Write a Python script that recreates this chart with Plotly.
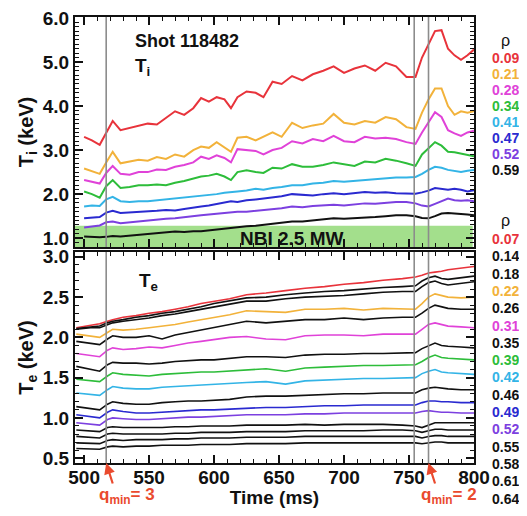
import plotly.graph_objects as go

# ---------------- data ----------------
t_ti = [500, 506, 512, 517, 522, 528, 535, 542, 549, 556, 563, 570, 577, 584, 590, 596, 602, 608, 613, 618,
        625, 632, 638, 645, 652, 660, 668, 676, 684, 692, 700, 708, 716, 724, 732, 740, 748, 755, 760, 765,
        770, 775, 780, 785, 790, 795, 800]

ti_rho = ["0.09", "0.21", "0.28", "0.34", "0.41", "0.47", "0.52", "0.59"]
ti_colors = ["#e8333b", "#f2b23a", "#e042d8", "#2dbd3a", "#33b4e6", "#2a2ad0", "#7c40e0", "#111111"]

ti_009 = [3.30, 3.22, 3.12, 3.40, 3.66, 3.45, 3.50, 3.55, 3.60, 3.58, 3.72, 3.88, 3.80, 3.95, 4.18, 4.10, 4.20, 4.15, 3.95, 4.20,
          4.33, 4.30, 4.20, 4.55, 4.50, 4.68, 4.58, 4.72, 4.80, 4.90, 4.75, 4.85, 4.92, 4.80, 4.98, 4.90, 4.66, 4.66, 5.10, 5.40,
          5.70, 5.72, 5.30, 5.15, 5.05, 5.15, 5.28]
ti_021 = [2.58, 2.52, 2.46, 2.72, 2.96, 2.70, 2.74, 2.78, 2.76, 2.84, 2.80, 2.90, 2.85, 3.00, 3.08, 3.05, 3.18, 3.05, 2.96, 3.28,
          3.30, 3.22, 3.30, 3.40, 3.30, 3.62, 3.50, 3.56, 3.60, 3.82, 3.62, 3.58, 3.66, 3.62, 3.75, 3.70, 3.52, 3.48, 3.85, 4.15,
          4.40, 4.40, 4.00, 3.80, 3.88, 3.85, 3.88]
ti_028 = [2.32, 2.28, 2.24, 2.48, 2.64, 2.46, 2.44, 2.50, 2.50, 2.56, 2.55, 2.62, 2.66, 2.72, 2.85, 2.80, 2.88, 2.82, 2.72, 3.02,
          3.00, 2.98, 2.90, 3.00, 3.05, 3.20, 3.15, 3.25, 3.20, 3.32, 3.20, 3.18, 3.30, 3.26, 3.28, 3.25, 3.18, 3.14, 3.40, 3.62,
          3.86, 3.75, 3.45, 3.38, 3.32, 3.40, 3.44]
ti_034 = [2.06, 2.00, 1.92, 2.18, 2.32, 2.14, 2.16, 2.20, 2.20, 2.22, 2.20, 2.26, 2.30, 2.36, 2.40, 2.42, 2.46, 2.40, 2.32, 2.50,
          2.54, 2.50, 2.48, 2.60, 2.58, 2.68, 2.62, 2.62, 2.66, 2.72, 2.68, 2.64, 2.74, 2.72, 2.80, 2.76, 2.70, 2.64, 2.90, 3.05,
          3.18, 3.10, 2.96, 2.95, 2.92, 2.90, 2.86]
ti_041 = [1.72, 1.74, 1.73, 1.88, 1.94, 1.84, 1.82, 1.84, 1.84, 1.86, 1.88, 1.90, 1.92, 1.95, 1.97, 1.98, 2.00, 2.03, 2.05, 2.06,
          2.08, 2.12, 2.10, 2.14, 2.16, 2.20, 2.20, 2.24, 2.26, 2.30, 2.28, 2.30, 2.32, 2.34, 2.36, 2.38, 2.38, 2.39, 2.46, 2.55,
          2.62, 2.60, 2.55, 2.52, 2.50, 2.53, 2.55]
ti_047 = [1.45, 1.47, 1.48, 1.58, 1.62, 1.57, 1.58, 1.60, 1.60, 1.62, 1.64, 1.63, 1.66, 1.70, 1.72, 1.74, 1.78, 1.82, 1.84, 1.82,
          1.86, 1.88, 1.90, 1.94, 1.95, 2.00, 1.98, 1.97, 2.00, 2.02, 2.00, 2.03, 2.05, 2.03, 2.04, 2.02, 2.01, 2.01, 2.04, 2.08,
          2.14, 2.12, 2.10, 2.12, 2.10, 2.06, 2.09]
ti_052 = [1.24, 1.27, 1.29, 1.36, 1.38, 1.34, 1.36, 1.38, 1.41, 1.42, 1.44, 1.45, 1.48, 1.50, 1.52, 1.54, 1.56, 1.58, 1.60, 1.60,
          1.60, 1.62, 1.64, 1.66, 1.68, 1.72, 1.70, 1.73, 1.74, 1.76, 1.74, 1.77, 1.79, 1.78, 1.80, 1.82, 1.82, 1.79, 1.74, 1.72,
          1.78, 1.84, 1.90, 1.86, 1.85, 1.86, 1.84]
ti_059 = [1.04, 1.03, 1.02, 1.03, 1.05, 1.04, 1.06, 1.08, 1.10, 1.12, 1.14, 1.15, 1.14, 1.16, 1.16, 1.18, 1.20, 1.22, 1.22, 1.24,
          1.27, 1.28, 1.30, 1.32, 1.34, 1.38, 1.38, 1.40, 1.42, 1.45, 1.44, 1.45, 1.46, 1.48, 1.50, 1.52, 1.52, 1.50, 1.46, 1.45,
          1.50, 1.56, 1.57, 1.56, 1.56, 1.54, 1.52]

t_te = [494, 505, 512, 518, 522, 530, 540, 550, 560, 570, 580, 590, 600, 612, 625, 640, 655, 670, 685, 700,
        715, 730, 745, 755, 760, 765, 770, 775, 780, 790, 800]

te_rho = ["0.07", "0.14", "0.18", "0.22", "0.26", "0.31", "0.35", "0.39", "0.42", "0.46", "0.49", "0.52",
          "0.55", "0.58", "0.61", "0.64"]
te_colors = ["#e8333b", "#111111", "#111111", "#f2b23a", "#111111", "#e042d8", "#111111", "#2dbd3a", "#33b4e6",
             "#111111", "#2a2ad0", "#7c40e0", "#111111", "#111111", "#111111", "#111111"]

te_007 = [2.12, 2.15, 2.17, 2.20, 2.22, 2.25, 2.27, 2.30, 2.32, 2.35, 2.38, 2.42, 2.45, 2.48, 2.53, 2.55, 2.58, 2.61, 2.63, 2.66,
          2.68, 2.71, 2.73, 2.75, 2.77, 2.80, 2.81, 2.82, 2.84, 2.86, 2.88]
te_014 = [2.11, 2.13, 2.14, 2.18, 2.20, 2.22, 2.25, 2.27, 2.30, 2.32, 2.35, 2.38, 2.42, 2.45, 2.49, 2.50, 2.53, 2.55, 2.57, 2.58,
          2.60, 2.62, 2.63, 2.64, 2.70, 2.74, 2.76, 2.73, 2.72, 2.74, 2.76]
te_018 = [2.10, 2.12, 2.12, 2.16, 2.18, 2.20, 2.22, 2.24, 2.27, 2.29, 2.32, 2.35, 2.38, 2.41, 2.45, 2.45, 2.48, 2.50, 2.51, 2.52,
          2.54, 2.56, 2.57, 2.57, 2.63, 2.68, 2.70, 2.67, 2.65, 2.67, 2.69]
te_022 = [2.04, 2.02, 2.00, 2.06, 2.10, 2.09, 2.10, 2.12, 2.14, 2.16, 2.19, 2.22, 2.25, 2.28, 2.33, 2.32, 2.31, 2.35, 2.35, 2.36,
          2.34, 2.36, 2.35, 2.35, 2.42, 2.50, 2.54, 2.52, 2.50, 2.49, 2.50]
te_026 = [1.95, 1.93, 1.91, 1.98, 2.02, 2.00, 2.00, 2.02, 1.98, 2.03, 2.06, 2.09, 2.12, 2.16, 2.20, 2.18, 2.20, 2.22, 2.22, 2.24,
          2.22, 2.24, 2.25, 2.25, 2.30, 2.36, 2.40, 2.38, 2.36, 2.35, 2.35]
te_031 = [1.80, 1.78, 1.76, 1.84, 1.87, 1.85, 1.86, 1.88, 1.87, 1.90, 1.93, 1.95, 1.97, 2.00, 2.01, 1.98, 1.97, 2.02, 2.03, 2.03,
          2.02, 2.04, 2.04, 2.04, 2.10, 2.16, 2.18, 2.16, 2.14, 2.13, 2.12]
te_035 = [1.64, 1.60, 1.58, 1.66, 1.69, 1.68, 1.68, 1.67, 1.68, 1.70, 1.71, 1.72, 1.72, 1.74, 1.76, 1.76, 1.75, 1.78, 1.79, 1.79,
          1.80, 1.80, 1.81, 1.81, 1.86, 1.90, 1.93, 1.90, 1.89, 1.88, 1.87]
te_039 = [1.48, 1.46, 1.45, 1.52, 1.56, 1.54, 1.53, 1.52, 1.54, 1.55, 1.56, 1.57, 1.57, 1.58, 1.60, 1.61, 1.58, 1.62, 1.63, 1.64,
          1.65, 1.65, 1.66, 1.66, 1.70, 1.75, 1.78, 1.75, 1.74, 1.73, 1.72]
te_042 = [1.31, 1.29, 1.28, 1.35, 1.39, 1.37, 1.36, 1.36, 1.38, 1.39, 1.40, 1.41, 1.42, 1.43, 1.44, 1.45, 1.42, 1.46, 1.47, 1.48,
          1.49, 1.49, 1.50, 1.50, 1.55, 1.58, 1.60, 1.57, 1.56, 1.55, 1.54]
te_046 = [1.14, 1.11, 1.10, 1.17, 1.20, 1.18, 1.17, 1.17, 1.19, 1.20, 1.21, 1.21, 1.22, 1.23, 1.26, 1.27, 1.27, 1.28, 1.29, 1.30,
          1.30, 1.31, 1.31, 1.31, 1.35, 1.37, 1.38, 1.37, 1.36, 1.35, 1.35]
te_049 = [1.04, 1.01, 1.00, 1.07, 1.10, 1.08, 1.06, 1.06, 1.07, 1.08, 1.09, 1.10, 1.10, 1.11, 1.12, 1.13, 1.13, 1.14, 1.15, 1.15,
          1.16, 1.16, 1.16, 1.16, 1.19, 1.21, 1.21, 1.20, 1.20, 1.19, 1.19]
te_052 = [0.94, 0.92, 0.91, 0.98, 1.00, 0.99, 0.98, 0.98, 0.99, 1.00, 1.01, 1.01, 1.02, 1.03, 1.04, 1.04, 1.04, 1.05, 1.05, 1.06,
          1.06, 1.06, 1.06, 1.06, 1.08, 1.09, 1.08, 1.07, 1.07, 1.06, 1.06]
te_055 = [0.85, 0.84, 0.83, 0.88, 0.89, 0.88, 0.88, 0.88, 0.88, 0.89, 0.89, 0.90, 0.90, 0.90, 0.91, 0.91, 0.91, 0.92, 0.91, 0.92,
          0.92, 0.92, 0.91, 0.90, 0.88, 0.91, 0.94, 0.94, 0.94, 0.94, 0.94]
te_058 = [0.77, 0.76, 0.75, 0.80, 0.81, 0.80, 0.80, 0.80, 0.80, 0.81, 0.81, 0.82, 0.82, 0.82, 0.83, 0.83, 0.83, 0.84, 0.84, 0.84,
          0.84, 0.85, 0.85, 0.84, 0.82, 0.84, 0.86, 0.86, 0.85, 0.85, 0.85]
te_061 = [0.69, 0.68, 0.68, 0.72, 0.73, 0.72, 0.73, 0.73, 0.73, 0.74, 0.74, 0.75, 0.75, 0.75, 0.76, 0.76, 0.76, 0.77, 0.77, 0.77,
          0.77, 0.77, 0.77, 0.77, 0.75, 0.77, 0.78, 0.78, 0.77, 0.77, 0.77]
te_064 = [0.62, 0.61, 0.61, 0.64, 0.65, 0.64, 0.65, 0.65, 0.66, 0.66, 0.66, 0.67, 0.67, 0.67, 0.68, 0.68, 0.68, 0.69, 0.69, 0.69,
          0.69, 0.69, 0.69, 0.69, 0.68, 0.69, 0.70, 0.70, 0.69, 0.69, 0.69]

ti_series = [ti_009, ti_021, ti_028, ti_034, ti_041, ti_047, ti_052, ti_059]
te_series = [te_007, te_014, te_018, te_022, te_026, te_031, te_035, te_039, te_042, te_046, te_049, te_052,
             te_055, te_058, te_061, te_064]

event_times = [517, 754, 765]
nbi_window = [493, 799]
nbi_level = 1.28

# ---------------- figure ----------------
# page body keeps an 8px margin; the figure is sized to fit inside the window
OFF = 8
W, H = 527 - 2 * OFF, 516 - 2 * OFF      # figure size
PL, PR, PT, PB = 75, 474, 17, 463          # plot-area edges in page pixels
PW, PH = PR - PL, PB - PT


def px_x(p):
    return (p - PL) / PW


def px_y(p):
    return (PB - p) / PH


fig = go.Figure()

for vals, col in zip(ti_series, ti_colors):
    fig.add_trace(go.Scatter(x=t_ti, y=vals, mode="lines", line=dict(color=col, width=2),
                             xaxis="x", yaxis="y", showlegend=False, hoverinfo="skip"))
for vals, col in zip(te_series, te_colors):
    fig.add_trace(go.Scatter(x=t_te, y=vals, mode="lines", line=dict(color=col, width=1.6),
                             xaxis="x2", yaxis="y2", showlegend=False, hoverinfo="skip"))

FONT = "Liberation Sans, Arial, sans-serif"
tickfont = dict(family=FONT, size=19, color="#111", weight="bold")

axis_common = dict(showline=True, linecolor="#111", linewidth=2, mirror="allticks",
                   ticks="inside", ticklen=8, tickwidth=1.5, tickcolor="#111", automargin=False,
                   ticklabeloverflow="allow",
                   showgrid=False, zeroline=False, tickfont=tickfont)

top_dom = [px_y(247), 1.0]
bot_dom = [0.0, px_y(252)]

fig.update_layout(
    width=W, height=H,
    margin=dict(l=PL - OFF, r=W + OFF - PR, t=PT - OFF, b=H + OFF - PB, autoexpand=False),
    paper_bgcolor="white", plot_bgcolor="white",
    xaxis=dict(axis_common, range=[493, 800], domain=[0, 1], anchor="y", dtick=50, tick0=500,
               showticklabels=False,
               minor=dict(ticks="inside", ticklen=4, dtick=10, tickcolor="#111", tickwidth=1)),
    yaxis=dict(axis_common, range=[0.80, 6.02], domain=top_dom, anchor="x", dtick=1, tick0=0,
               tickformat=".1f",
               minor=dict(ticks="inside", ticklen=4, dtick=0.1, tickcolor="#111", tickwidth=1),
               title=dict(text="<b>T<sub>i</sub> (keV)</b>", font=dict(family=FONT, size=20, color="#111"),
                          standoff=4)),
    xaxis2=dict(axis_common, range=[493, 800], domain=[0, 1], anchor="y2", dtick=50, tick0=500,
                ticklabelstandoff=-4,
                minor=dict(ticks="inside", ticklen=4, dtick=10, tickcolor="#111", tickwidth=1),
                title=dict(text="<b>Time (ms)</b>", font=dict(family=FONT, size=19, color="#111"),
                           standoff=0)),
    yaxis2=dict(axis_common, range=[0.44, 3.06], domain=bot_dom, anchor="x2", dtick=0.5, tick0=0,
                tickformat=".1f",
                minor=dict(ticks="inside", ticklen=4, dtick=0.1, tickcolor="#111", tickwidth=1),
                title=dict(text="<b>T<sub>e</sub> (keV)</b>", font=dict(family=FONT, size=20, color="#111"),
                           standoff=4)),
)

# NBI band
fig.add_shape(type="rect", xref="x", yref="y", x0=nbi_window[0], x1=nbi_window[1], y0=0.80, y1=nbi_level,
              fillcolor="#a3df8c", line=dict(width=0), layer="below")

# event lines
for t in event_times:
    for xr, yr in (("x", "y domain"), ("x2", "y2 domain")):
        fig.add_shape(type="line", xref=xr, yref=yr, x0=t, x1=t, y0=0, y1=1,
                      line=dict(color="#8c8c8c", width=1.6), layer="above")

ann = []
ann.append(dict(text="<b>Shot 118482</b>", x=px_x(133), y=px_y(41), xref="paper", yref="paper",
                xanchor="left", yanchor="middle", showarrow=False, font=dict(family=FONT, size=18, color="#111")))
ann.append(dict(text="<b>T<sub>i</sub></b>", x=px_x(133), y=px_y(67), xref="paper", yref="paper",
                xanchor="left", yanchor="middle", showarrow=False, font=dict(family=FONT, size=19, color="#111")))
ann.append(dict(text="<b>T<sub>e</sub></b>", x=px_x(137), y=px_y(282), xref="paper", yref="paper",
                xanchor="left", yanchor="middle", showarrow=False, font=dict(family=FONT, size=19, color="#111")))
ann.append(dict(text="<b>NBI 2.5 MW</b>", x=px_x(292), y=px_y(238), xref="paper", yref="paper",
                xanchor="center", yanchor="middle", showarrow=False, font=dict(family=FONT, size=19, color="#111")))

# rho labels
LX = 490
ann.append(dict(text="ρ", x=px_x(LX + 9), y=px_y(40), xref="paper", yref="paper", xanchor="left",
                yanchor="middle", showarrow=False, font=dict(family=FONT, size=16, color="#111")))
for i, (lab, col) in enumerate(zip(ti_rho, ti_colors)):
    ann.append(dict(text=f"<b>{lab}</b>", x=px_x(LX), y=px_y(58 + 16 * i), xref="paper", yref="paper",
                    xanchor="left", yanchor="middle", showarrow=False, font=dict(family=FONT, size=14, color=col)))
ann.append(dict(text="ρ", x=px_x(LX + 9), y=px_y(220), xref="paper", yref="paper", xanchor="left",
                yanchor="middle", showarrow=False, font=dict(family=FONT, size=16, color="#111")))
for i, (lab, col) in enumerate(zip(te_rho, te_colors)):
    ann.append(dict(text=f"<b>{lab}</b>", x=px_x(LX), y=px_y(239 + 17.3 * i), xref="paper", yref="paper",
                    xanchor="left", yanchor="middle", showarrow=False, font=dict(family=FONT, size=14, color=col)))

# q_min labels and arrows
QRED = "#ea4a2e"
for tq, xc, lab in ((517, 127, "3"), (765, 449, "2")):
    ann.append(dict(text=f"<b>q<sub>min</sub>= {lab}</b>", x=px_x(xc), y=px_y(496), xref="paper", yref="paper",
                    xanchor="center", yanchor="middle", showarrow=False, font=dict(family=FONT, size=17, color=QRED)))
    ann.append(dict(text="", x=tq, y=0.44, xref="x2", yref="y2", showarrow=True, arrowhead=2, arrowsize=1,
                    arrowwidth=2.2, arrowcolor=QRED, ax=7, ay=22, axref="pixel", ayref="pixel"))

fig.update_layout(annotations=ann)

fig.write_html("out.html")
